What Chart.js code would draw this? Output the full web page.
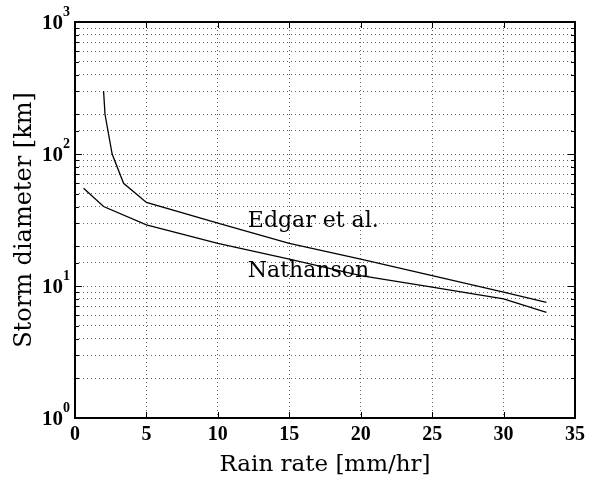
<!DOCTYPE html>
<html>
<head>
<meta charset="utf-8">
<script src="https://cdn.jsdelivr.net/npm/chart.js@4.4.1/dist/chart.umd.min.js"></script>
<style>
  html, body { margin: 0; padding: 0; background: #fff; }
  #wrap { width: 592px; height: 482px; }
</style>
</head>
<body>
<div id="wrap"><canvas id="stormChart" width="592" height="482"></canvas></div>
<script>
// Edgar et al. curve
const edgarRate = [2, 2.1, 2.6, 3.4, 5, 10, 15, 20, 25, 30, 33];
const edgarDiameter = [300, 200, 100, 60, 43, 30, 21, 16, 12, 9, 7.5];

// Nathanson curve
const nathansonRate = [0.6, 2, 5, 10, 15, 20, 25, 30, 33];
const nathansonDiameter = [55, 40, 29, 21, 16, 12, 9.8, 8, 6.3];

// axis ticks
const xTicks = [0, 5, 10, 15, 20, 25, 30, 35];
const yDecades = [1, 10, 100, 1000];
const yExponents = ['0', '1', '2', '3'];

// curve labels placed in data coordinates
const curveLabels = [
    { text: 'Edgar et al.', x: 12.1, y: 31 },
    { text: 'Nathanson', x: 12.1, y: 13 }
];

const boldSerif = '"Liberation Serif", "Times New Roman", serif';
const textSerif = '"DejaVu Serif", "Liberation Serif", serif';

const toPoints = (xs, ys) => xs.map((x, i) => ({ x: x, y: ys[i] }));

// draws box, inward ticks, decade labels and curve labels
const decorations = {
    id: 'decorations',
    afterDraw(chart) {
        const ctx = chart.ctx;
        const area = chart.chartArea;
        const xs = chart.scales.x;
        const ys = chart.scales.y;
        ctx.save();
        ctx.strokeStyle = '#000';
        ctx.lineWidth = 1;
        ctx.beginPath();
        xTicks.forEach(v => {
            const px = Math.round(xs.getPixelForValue(v)) + 0.5;
            ctx.moveTo(px, area.bottom); ctx.lineTo(px, area.bottom - 6);
            ctx.moveTo(px, area.top); ctx.lineTo(px, area.top + 6);
        });
        ys.ticks.forEach(t => {
            const isMajor = yDecades.includes(t.value);
            const len = isMajor ? 7 : 4;
            const py = Math.round(ys.getPixelForValue(t.value)) + 0.5;
            ctx.moveTo(area.left, py); ctx.lineTo(area.left + len, py);
            ctx.moveTo(area.right, py); ctx.lineTo(area.right - len, py);
        });
        ctx.stroke();

        ctx.lineWidth = 2;
        ctx.strokeRect(area.left, area.top, area.right - area.left, area.bottom - area.top);

        // decade labels 10^n
        ctx.fillStyle = '#000';
        ctx.textBaseline = 'middle';
        yDecades.forEach((v, i) => {
            const py = ys.getPixelForValue(v);
            ctx.font = 'bold 21px ' + boldSerif;
            ctx.textAlign = 'right';
            ctx.fillText('10', area.left - 12, py + 2);
            ctx.font = 'bold 14px ' + boldSerif;
            ctx.textAlign = 'left';
            ctx.fillText(yExponents[i], area.left - 12, py - 10);
        });

        ctx.font = '22px ' + textSerif;
        ctx.textAlign = 'left';
        curveLabels.forEach(l => {
            ctx.fillText(l.text, xs.getPixelForValue(l.x), ys.getPixelForValue(l.y));
        });
        ctx.restore();
    }
};

new Chart(document.getElementById('stormChart').getContext('2d'), {
    type: 'line',
    data: {
        datasets: [
            {
                label: 'Edgar et al.',
                data: toPoints(edgarRate, edgarDiameter),
                borderColor: '#000',
                borderWidth: 1.3,
                pointRadius: 0,
                tension: 0,
                fill: false
            },
            {
                label: 'Nathanson',
                data: toPoints(nathansonRate, nathansonDiameter),
                borderColor: '#000',
                borderWidth: 1.3,
                pointRadius: 0,
                tension: 0,
                fill: false
            }
        ]
    },
    options: {
        responsive: false,
        animation: false,
        layout: { padding: { top: 22, right: 17, left: 0, bottom: 0 } },
        plugins: {
            legend: { display: false },
            tooltip: { enabled: false }
        },
        scales: {
            x: {
                type: 'linear',
                min: 0,
                max: 35,
                afterBuildTicks: scale => { scale.ticks = xTicks.map(v => ({ value: v })); },
                afterFit: scale => { scale.height = 64; },
                ticks: {
                    color: '#000',
                    font: { family: boldSerif, size: 20, weight: 'bold' },
                    padding: 5,
                    maxRotation: 0
                },
                grid: {
                    color: 'rgba(0,0,0,0.6)',
                    lineWidth: 1,
                    drawTicks: false,
                    tickLength: 0
                },
                border: { display: false, dash: [1, 3] },
                title: {
                    display: true,
                    text: 'Rain rate [mm/hr]',
                    color: '#000',
                    font: { family: textSerif, size: 23 },
                    padding: { top: 0, bottom: 3 }
                }
            },
            y: {
                type: 'logarithmic',
                min: 1,
                max: 1000,
                afterFit: scale => { scale.width = 75; },
                ticks: {
                    autoSkip: false,
                    callback: () => ''
                },
                grid: {
                    color: 'rgba(0,0,0,0.6)',
                    lineWidth: 1,
                    drawTicks: false,
                    tickLength: 0
                },
                border: { display: false, dash: [1, 3] },
                title: {
                    display: true,
                    text: 'Storm diameter [km]',
                    color: '#000',
                    font: { family: textSerif, size: 24 },
                    padding: { top: 10, bottom: 0 }
                }
            }
        }
    },
    plugins: [decorations]
});
</script>
</body>
</html>
